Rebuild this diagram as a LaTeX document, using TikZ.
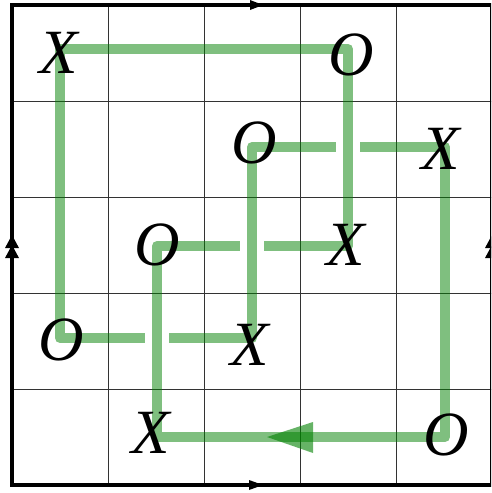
\documentclass[tikz,border=0pt]{standalone}
\usepackage{fontspec}
\setmainfont{Liberation Serif}
\definecolor{knotgreen}{RGB}{0,128,0}
\begin{document}
\begin{tikzpicture}[x=1pt,y=-1pt,
  gridline/.style={line width=1pt, draw=black!80},
  frame/.style={line width=4pt, draw=black},
  knot/.style={line width=10pt, draw=knotgreen, opacity=0.5, line join=round, line cap=butt},
  ktip/.style={fill=knotgreen, opacity=0.6},
  mk/.style={font=\fontsize{63}{63}\selectfont\itshape, inner sep=0pt, text=black},
  btip/.style={fill=black}]
\useasboundingbox (0,0) rectangle (491,493);
\clip (0,0) rectangle (491,493);
% grid
\foreach \i in {1,2,3,4} {
  \draw[gridline] ({12+96*\i},5) -- ({12+96*\i},485);
  \draw[gridline] (12,{5+96*\i}) -- (492,{5+96*\i});
}
% frame
\draw[frame] (12,485) -- (12,5) -- (492,5) -- (492,485) -- cycle;
% frame arrows
\fill[btip] (263,5) -- (250,0) -- (250,10) -- cycle;
\fill[btip] (263,485) -- (249,480) -- (249,490) -- cycle;
\fill[btip] (12,235) -- (5,248) -- (19,248) -- cycle;
\fill[btip] (12,245) -- (5,258) -- (19,258) -- cycle;
\fill[btip] (492,235) -- (485,248) -- (499,248) -- cycle;
\fill[btip] (492,245) -- (485,258) -- (499,258) -- cycle;
% cell coordinates
\foreach \c/\xx in {0/60,1/157,2/252,3/348,4/445} {
  \foreach \r/\yy in {0/49,1/147,2/246,3/338,4/437} {
    \coordinate (c\c\r) at (\xx,\yy);
  }
}
% knot
\draw[knot] ([xshift=12pt]c13) -- (c23) -- (c21) -- ([xshift=-12pt]c31);
\draw[knot] ([xshift=12pt]c31) -- (c41) -- (c44) -- (c14) -- (c12) -- ([xshift=-12pt]c22);
\draw[knot] ([xshift=12pt]c22) -- (c32) -- (c30) -- (c00) -- (c03) -- ([xshift=-12pt]c13);
\fill[ktip] (267,437) -- (313,422) -- (313,453) -- cycle;
% markers
\node[mk] (x00) at (59,53) {X};
\node[mk] (o30) at (351,55) {O};
\node[mk] (o21) at (254,143) {O};
\node[mk] (x41) at (441,149) {X};
\node[mk] (o12) at (157,245) {O};
\node[mk] (x32) at (346,245) {X};
\node[mk] (o03) at (61,340) {O};
\node[mk] (x23) at (250,345) {X};
\node[mk] (x14) at (151,433) {X};
\node[mk] (o44) at (446,435) {O};
\end{tikzpicture}
\end{document}
